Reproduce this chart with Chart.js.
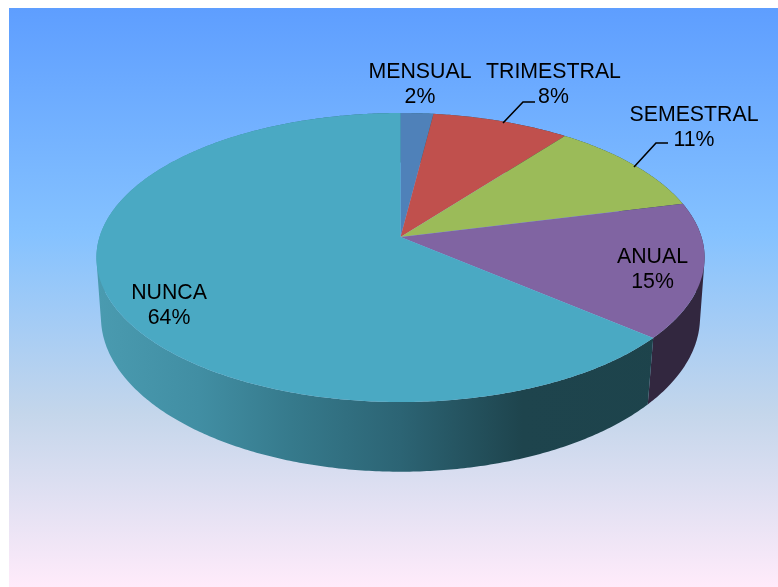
<!DOCTYPE html>
<html>
<head>
<meta charset="utf-8">
<style>html,body{margin:0;padding:0;background:#fff}canvas{display:block}</style>
<script src="https://cdn.jsdelivr.net/npm/chart.js@4"></script>
</head>
<body>
<canvas id="c" width="778" height="587" style="width:778px;height:587px"></canvas>
<script>
const categories = ['MENSUAL', 'TRIMESTRAL', 'SEMESTRAL', 'ANUAL', 'NUNCA'];
const percentages = [2, 8.4, 10.7, 15.1, 63.8];
const sliceColors = ['#4f81b9', '#c0504d', '#9bbb59', '#8064a2', '#4aa9c3'];

// Text placement: [centre x, first baseline]; leader polylines for two labels.
const labelPlace = [[420, 78], [553.5, 78], [694, 121], [652.5, 263], [169, 299]];
const leaders = { 1: [[503, 123], [523, 102], [535, 102]], 2: [[634, 167], [656, 143], [668, 143]] };

// Perspective of the tilted disc (top face and bottom face).
const topFace = { cx: 400.5, cy: 237, a: 141.6, b: 301, k: 0.142 };
const botFace = { cx: 400.5, cy: 297, a: 152, b: 297, k: 0.13 };
function project(f, theta) {
  const u = Math.sin(theta), v = -Math.cos(theta), d = 1 - f.k * v;
  return [f.cx + f.b * u / d, f.cy + f.a * v / d];
}
function wallFill(ctx, i) {
  const g = ctx.createLinearGradient(96, 0, 705, 0);
  if (i === 3) {
    g.addColorStop(0, '#32273f'); g.addColorStop(1, '#32273f');
    return g;
  }
  g.addColorStop(0, '#4a9bb0');
  g.addColorStop(0.17, '#418ea3');
  g.addColorStop(0.32, '#367a8c');
  g.addColorStop(0.5, '#2c6474');
  g.addColorStop(0.7, '#1e444d');
  g.addColorStop(1, '#1d434b');
  return g;
}
const disc3d = {
  id: 'disc3d',
  beforeDraw(chart) {
    const ctx = chart.ctx;
    const g = ctx.createLinearGradient(0, 8, 0, 587);
    g.addColorStop(0, '#5e9eff');
    g.addColorStop(0.39, '#85c2ff');
    g.addColorStop(0.7, '#c4d6eb');
    g.addColorStop(1, '#ffebfa');
    ctx.fillStyle = g;
    ctx.fillRect(9, 8, 769, 579);
  },
  beforeDatasetsDraw(chart) {
    const ctx = chart.ctx, arcs = chart.getDatasetMeta(0).data;
    const start = a => a.startAngle + Math.PI / 2, end = a => a.endAngle + Math.PI / 2;
    // side wall: one path per slice, all pieces wound the same way, so no seams
    arcs.forEach((arc, i) => {
      const t0 = start(arc), t1 = end(arc), n = Math.ceil((t1 - t0) / 0.01);
      ctx.beginPath();
      for (let s = 0; s < n; s++) {
        const a0 = t0 + (t1 - t0) * s / n, a1 = t0 + (t1 - t0) * (s + 1) / n;
        const p = [project(topFace, a0), project(topFace, a1), project(botFace, a1), project(botFace, a0)];
        let area = 0;
        p.forEach((q, j) => { const r = p[(j + 1) % 4]; area += q[0] * r[1] - r[0] * q[1]; });
        if (area < 0) p.reverse();
        p.forEach((q, j) => j ? ctx.lineTo(q[0], q[1]) : ctx.moveTo(q[0], q[1]));
        ctx.closePath();
      }
      ctx.fillStyle = wallFill(ctx, i);
      ctx.fill('nonzero');
    });
    // top face
    arcs.forEach((arc, i) => {
      const t0 = start(arc), t1 = end(arc), n = Math.ceil((t1 - t0) / 0.01);
      ctx.beginPath();
      ctx.moveTo(topFace.cx, topFace.cy);
      for (let s = 0; s <= n; s++) {
        const q = project(topFace, t0 + (t1 - t0) * s / n);
        ctx.lineTo(q[0], q[1]);
      }
      ctx.closePath();
      ctx.fillStyle = sliceColors[i];
      ctx.fill();
    });
    return false;
  },
  afterDraw(chart) {
    const ctx = chart.ctx;
    ctx.strokeStyle = '#000'; ctx.lineWidth = 1.6;
    Object.values(leaders).forEach(pts => {
      ctx.beginPath();
      pts.forEach((q, j) => j ? ctx.lineTo(q[0], q[1]) : ctx.moveTo(q[0], q[1]));
      ctx.stroke();
    });
    ctx.fillStyle = '#000';
    ctx.font = '21.3px "Liberation Sans", Arial, sans-serif';
    ctx.textAlign = 'center';
    ctx.textBaseline = 'alphabetic';
    categories.forEach((name, i) => {
      const [x, y] = labelPlace[i];
      ctx.fillText(name, x, y);
      ctx.fillText(Math.round(percentages[i]) + '%', x, y + 24.5);
    });
  }
};
new Chart(document.getElementById('c'), {
  type: 'pie',
  data: { labels: categories, datasets: [{ data: percentages, backgroundColor: sliceColors, borderWidth: 0 }] },
  options: {
    responsive: false,
    animation: false,
    plugins: { legend: { display: false }, tooltip: { enabled: false } }
  },
  plugins: [disc3d]
});
</script>
</body>
</html>
